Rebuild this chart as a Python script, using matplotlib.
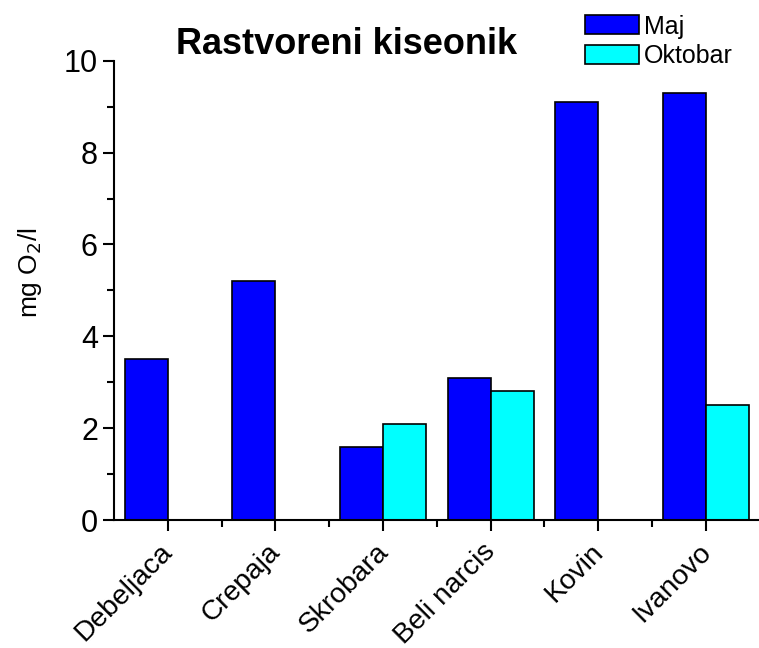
import matplotlib
matplotlib.use("Agg")
import matplotlib.pyplot as plt
import matplotlib.transforms as mtransforms
import numpy as np

plt.rcParams["font.family"] = ["Liberation Sans", "DejaVu Sans"]

sites = ["Debeljaca", "Crepaja", "Skrobara", "Beli narcis", "Kovin", "Ivanovo"]
maj = [3.5, 5.2, 1.6, 3.1, 9.1, 9.3]
oktobar = [0.0, 0.0, 2.1, 2.8, 0.0, 2.5]

fig = plt.figure(figsize=(7.59, 6.48), dpi=100)
ax = fig.add_axes([0.150, 0.1975, 0.851, 0.7088])

x = np.arange(len(sites))
w = 0.4
ax.bar(x - w / 2, maj, w, color="#0000FF", edgecolor="black", lw=1.2, label="Maj")
ax.bar(x + w / 2, oktobar, w, color="#00FFFF", edgecolor="black", lw=1.2, label="Oktobar")

ax.set_xlim(-0.5, 5.5)
ax.set_ylim(0, 10)
ax.set_xticks(x)
ax.set_xticklabels(sites, rotation=45, ha="right", rotation_mode="anchor", fontsize=20.3)
ax.set_xticks(x[:-1] + 0.5, minor=True)
ax.set_yticks(range(0, 11, 2))
ax.set_yticks(range(1, 10, 2), minor=True)
ax.tick_params(axis="y", labelsize=22)
ax.tick_params(which="major", direction="out", length=8, width=1.5)
ax.tick_params(which="minor", direction="out", length=5, width=1.5)
ax.tick_params(axis="x", which="major", pad=10)

# nudge the rotated category labels to sit like the original
shift = mtransforms.ScaledTranslation(-0.08, 0.065, fig.dpi_scale_trans)
for lbl in ax.get_xticklabels():
    lbl.set_transform(lbl.get_transform() + shift)

for s in ("top", "right"):
    ax.spines[s].set_visible(False)
for s in ("left", "bottom"):
    ax.spines[s].set_linewidth(1.5)

ax.set_ylabel("mg O$_2$/l", fontsize=19)
ax.yaxis.set_label_coords(-0.108, 0.538)
fig.text(0.457, 0.932, "Rastvoreni kiseonik", fontsize=26, fontweight="bold",
         ha="center", va="center")

fig.legend(loc="upper left", bbox_to_anchor=(0.758, 0.993), frameon=False,
           fontsize=18, handlelength=2.15, handleheight=0.8, labelspacing=0.22,
           handletextpad=0.2, borderaxespad=0)

fig.savefig("out.png", dpi=100)
